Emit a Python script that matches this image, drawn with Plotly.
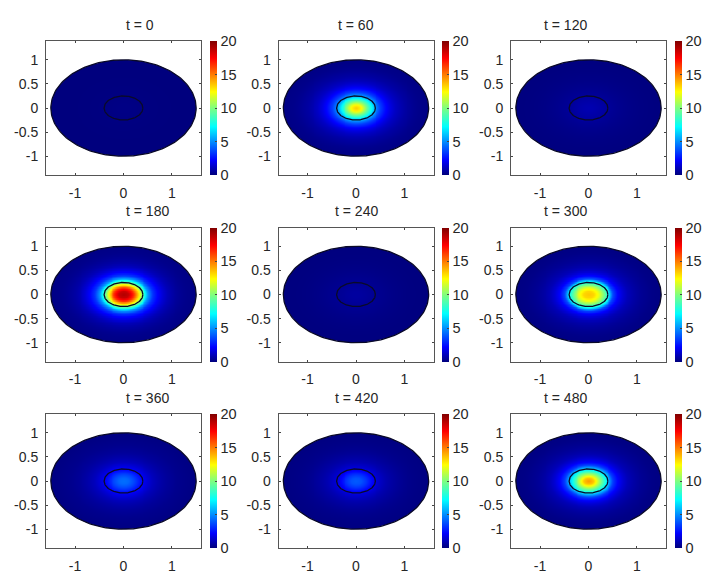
import numpy as np
import plotly.graph_objects as go

W, H = 721, 579

TITLES = ["t = 0", "t = 60", "t = 120", "t = 180", "t = 240", "t = 300", "t = 360", "t = 420", "t = 480"]

# distance from the centre along the long axis, then the value read there
RADIUS = [0, 0.1, 0.2, 0.3, 0.4, 0.5, 0.6, 0.7, 0.8, 0.9, 1.0, 1.1, 1.2, 1.3, 1.4, 1.5]
T0 = [0.15, 0.15, 0.14, 0.12, 0.1, 0.08, 0.07, 0.06, 0.05, 0.05, 0.04, 0.04, 0.03, 0.03, 0.03, 0.03]
T60 = [13.5, 12.5, 10, 7.5, 5, 3.4, 2.4, 1.7, 1.2, 0.9, 0.65, 0.5, 0.35, 0.25, 0.2, 0.15]
T120 = [0.9, 0.85, 0.75, 0.65, 0.5, 0.4, 0.33, 0.27, 0.22, 0.18, 0.15, 0.12, 0.1, 0.08, 0.07, 0.06]
T180 = [19, 18.5, 16.5, 13, 9, 5.2, 3.2, 2.2, 1.5, 1, 0.7, 0.5, 0.35, 0.25, 0.2, 0.15]
T240 = [0.6, 0.58, 0.52, 0.45, 0.38, 0.32, 0.27, 0.22, 0.18, 0.15, 0.12, 0.1, 0.08, 0.07, 0.06, 0.05]
T300 = [13.5, 13.2, 12, 10, 7.5, 3.6, 2.2, 1.5, 1, 0.75, 0.55, 0.4, 0.3, 0.2, 0.15, 0.12]
T360 = [4.4, 4.2, 3.6, 2.8, 2, 1.5, 1.1, 0.85, 0.65, 0.5, 0.4, 0.3, 0.25, 0.2, 0.15, 0.12]
T420 = [4, 3.8, 3.2, 2.4, 1.6, 1.2, 0.9, 0.7, 0.55, 0.42, 0.32, 0.25, 0.2, 0.16, 0.13, 0.1]
T480 = [14.5, 13.5, 11, 8.5, 6, 3.4, 2.2, 1.5, 1, 0.75, 0.55, 0.4, 0.3, 0.2, 0.15, 0.12]
PROFILES = [T0, T60, T120, T180, T240, T300, T360, T420, T480]

X_TICKS = [-1, 0, 1]
X_LABELS = ["-1", "0", "1"]
Y_TICKS = [-1, -0.5, 0, 0.5, 1]
Y_LABELS = ["-1", "-0.5", "0", "0.5", "1"]
BAR_TICKS = [0, 5, 10, 15, 20]

OUTER = (1.5, 1.0)
INNER = (0.4, 0.25)
X_RANGE = [-1.6, 1.6]
Y_RANGE = [-1.39, 1.39]

# MATLAB style jet
JET = [[0, "#00007c"], [0.11, "#0000ff"], [0.36, "#00ffff"], [0.5, "#7fff7f"],
       [0.62, "#ffff00"], [0.87, "#ff0000"], [1, "#800000"]]

# panel frames in pixels
COL_LEFT = [46, 278.5, 511]
ROW_TOP = [41, 227.5, 414]
PANEL_W, PANEL_H = 155, 134
BAR_GAP, BAR_W = 9, 7
TEXT = "#262626"
FONT = "Liberation Sans"


def ring(radii):
    a = np.linspace(0, 2 * np.pi, 181)
    return radii[0] * np.cos(a), radii[1] * np.sin(a)


fig = go.Figure()

# the field only depends on the elliptical radius, so lay each reading out on a grid
xs = np.linspace(OUTER[0] * -1, OUTER[0], 151)
ys = xs * OUTER[1] / OUTER[0]
gx, gy = np.meshgrid(xs, ys)
rho = np.hypot(gx, gy * OUTER[0] / OUTER[1])

for i, profile in enumerate(PROFILES):
    row, col = i // 3, i % 3
    n = "" if i == 0 else str(i + 1)
    left, top = COL_LEFT[col], ROW_TOP[row]
    z = np.interp(rho, RADIUS, profile)

    fig.add_trace(go.Heatmap(
        x=xs, y=ys, z=z, zmin=0, zmax=20, zsmooth="best", colorscale=JET,
        xaxis="x" + n, yaxis="y" + n, hoverinfo="skip",
        colorbar=dict(
            x=(left + PANEL_W + BAR_GAP) / W, xanchor="left", xpad=0, ypad=0,
            y=1 - (top + PANEL_H) / H, yanchor="bottom",
            len=PANEL_H / H, lenmode="fraction",
            thickness=BAR_W, thicknessmode="pixels",
            tickvals=BAR_TICKS, ticks="inside", ticklen=2, tickcolor="#444444",
            outlinewidth=0, tickfont=dict(family=FONT, size=14.5, color=TEXT),
        ),
    ))

    # white outside the disc, the ring runs the other way round so it is a hole
    ox, oy = ring(OUTER)
    fig.add_trace(go.Scatter(
        x=[X_RANGE[0], X_RANGE[1], X_RANGE[1], X_RANGE[0], X_RANGE[0], None, *ox],
        y=[Y_RANGE[0], Y_RANGE[0], Y_RANGE[1], Y_RANGE[1], Y_RANGE[0], None, *(-oy)],
        mode="lines", line=dict(width=0), fill="toself", fillcolor="white",
        xaxis="x" + n, yaxis="y" + n, hoverinfo="skip", showlegend=False,
    ))
    for radii in (OUTER, INNER):
        rx, ry = ring(radii)
        fig.add_trace(go.Scatter(
            x=rx, y=ry, mode="lines", line=dict(color="#0a0a28", width=1.3),
            xaxis="x" + n, yaxis="y" + n, hoverinfo="skip", showlegend=False,
        ))

    common = dict(showgrid=False, zeroline=False, showline=True, linecolor="#555555",
                  linewidth=1, mirror="allticks", ticks="inside", ticklen=2,
                  tickcolor="#444444", tickfont=dict(family=FONT, size=14, color=TEXT))
    fig.update_layout({
        "xaxis" + n: dict(domain=[left / W, (left + PANEL_W) / W], range=X_RANGE,
                          tickvals=X_TICKS, ticktext=X_LABELS, ticklabelstandoff=5,
                          anchor="y" + n, **common),
        "yaxis" + n: dict(domain=[1 - (top + PANEL_H) / H, 1 - top / H], range=Y_RANGE,
                          tickvals=Y_TICKS, ticktext=Y_LABELS, ticklabelstandoff=4,
                          anchor="x" + n, **common),
    })
    fig.add_annotation(
        text=TITLES[i], xref="paper", yref="paper", showarrow=False,
        x=(left + PANEL_W / 2) / W, y=1 - (top - 16) / H, yanchor="middle",
        font=dict(family=FONT, size=14, color=TEXT),
    )

fig.update_layout(
    width=W, height=H, autosize=False, margin=dict(l=0, r=0, t=0, b=0),
    paper_bgcolor="white", plot_bgcolor="white", showlegend=False,
)

fig.write_html("out.html", config=dict(displayModeBar=False),
               post_script="document.body.style.margin='0';")
